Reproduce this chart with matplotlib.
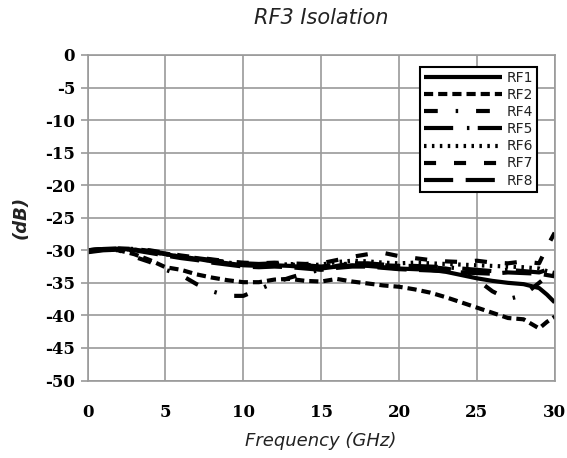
import matplotlib
matplotlib.use("Agg")
import matplotlib.pyplot as plt

plt.rcParams["axes.unicode_minus"] = False

# frequency points (GHz)
freq = [0, 1, 2, 3, 4, 5, 6, 7, 8, 9, 10, 11, 12, 13, 14, 15, 16, 17, 18, 19,
        20, 21, 22, 23, 24, 25, 26, 27, 28, 29, 29.5, 30]

# isolation (dB)
rf1 = [-30.2, -29.9, -29.8, -29.9, -30.2, -30.6, -31.0, -31.3, -31.7, -32.0,
       -32.3, -32.4, -32.3, -32.4, -32.6, -32.8, -32.5, -32.3, -32.4, -32.6,
       -32.8, -32.9, -33.0, -33.3, -33.8, -34.3, -34.7, -35.0, -35.2, -35.8,
       -36.8, -38.0]
rf2 = [-30.0, -29.9, -30.0, -30.6, -31.5, -32.6, -33.0, -33.7, -34.2, -34.6,
       -34.9, -34.9, -34.5, -34.4, -34.7, -34.8, -34.4, -34.8, -35.1, -35.4,
       -35.6, -36.0, -36.5, -37.2, -38.0, -38.8, -39.6, -40.4, -40.6, -42.0,
       -41.0, -40.2]
rf4 = [-30.0, -29.8, -30.0, -31.0, -31.8, -33.0, -33.8, -35.2, -36.3, -37.0,
       -37.0, -36.0, -35.0, -34.2, -33.5, -33.0, -32.4, -32.0, -32.2, -32.3,
       -32.4, -32.5, -32.6, -32.8, -33.2, -34.5, -36.3, -37.5, -36.9, -35.0,
       -34.0, -33.5]
rf5 = [-30.0, -29.8, -29.7, -29.8, -30.1, -30.5, -30.9, -31.2, -31.5, -31.8,
       -32.0, -32.1, -32.0, -32.1, -32.3, -32.5, -32.2, -32.0, -32.0, -32.2,
       -32.4, -32.4, -32.5, -32.6, -32.8, -33.0, -33.2, -33.0, -33.2, -33.4,
       -33.0, -33.2]
rf6 = [-30.1, -29.9, -29.8, -29.9, -30.2, -30.6, -31.0, -31.3, -31.6, -31.9,
       -32.1, -32.2, -32.1, -32.2, -32.3, -32.2, -31.8, -31.6, -31.7, -31.9,
       -32.0, -31.9, -32.0, -32.1, -32.2, -32.3, -32.4, -32.5, -32.6, -32.8,
       -33.2, -33.5]
rf7 = [-30.0, -29.8, -29.7, -29.8, -30.0, -30.4, -30.8, -31.1, -31.4, -31.7,
       -31.9, -32.0, -31.9, -32.0, -32.1, -32.0, -31.5, -31.0, -30.6, -30.4,
       -30.9, -31.2, -31.5, -31.7, -31.8, -31.6, -31.9, -32.0, -31.7, -32.0,
       -29.5, -27.3]
rf8 = [-30.3, -30.0, -29.9, -30.0, -30.4, -30.8, -31.2, -31.5, -31.9, -32.2,
       -32.5, -32.6, -32.5, -32.6, -32.8, -33.0, -32.7, -32.5, -32.5, -32.7,
       -32.9, -33.0, -33.1, -33.2, -33.4, -33.5, -33.6, -33.4, -33.5, -33.6,
       -33.8, -34.0]

series = [
    ("RF1", rf1, "-"),
    ("RF2", rf2, (0, (2.2, 1.2))),
    ("RF4", rf4, (0, (3.3, 4.3, 0.6, 4.3))),
    ("RF5", rf5, (0, (7, 3.3, 0.6, 2.0))),
    ("RF6", rf6, (0, (0.6, 1.3))),
    ("RF7", rf7, (0, (2.9, 4.3))),
    ("RF8", rf8, (0, (7, 3))),
]

fig = plt.figure(figsize=(5.67, 4.58), dpi=100)
ax = fig.add_axes([0.1545, 0.1692, 0.8238, 0.7108])

for name, vals, ls in series:
    ax.plot(freq, vals, color="black", lw=3, linestyle=ls, label=name,
            solid_capstyle="butt", dash_capstyle="butt")

ax.set_xlim(0, 30)
ax.set_ylim(-50, 0)
ax.set_xticks(range(0, 31, 5))
ax.set_yticks(range(-50, 1, 5))
ax.grid(True, color="#9a9a9a", lw=1.2)
ax.set_axisbelow(True)
for sp in ax.spines.values():
    sp.set_color("#9a9a9a")
    sp.set_linewidth(1.2)

ax.tick_params(axis="y", length=5, color="#9a9a9a", width=1.2, pad=4)
ax.tick_params(axis="x", length=0, pad=17)
for lab in ax.get_xticklabels() + ax.get_yticklabels():
    lab.set_fontfamily("DejaVu Serif")
    lab.set_fontweight("bold")
    lab.set_fontsize(12)

ax.set_title("RF3 Isolation", fontsize=15, style="italic", color="#222222",
             pad=22)
ax.set_xlabel("Frequency (GHz)", fontsize=13, style="italic",
              color="#222222", labelpad=8)
ax.set_ylabel("(dB)", fontsize=13, style="italic", fontweight="bold",
              color="#222222", labelpad=11)

leg = ax.legend(loc="upper right", bbox_to_anchor=(0.962, 0.963),
                borderaxespad=0, fancybox=False, framealpha=1,
                edgecolor="black", fontsize=10, handlelength=5.6,
                handletextpad=0.3, labelspacing=0.22, borderpad=0.3)
leg.get_frame().set_linewidth(1.5)
for txt in leg.get_texts():
    txt.set_color("#222222")

fig.savefig("out.png", dpi=100)
